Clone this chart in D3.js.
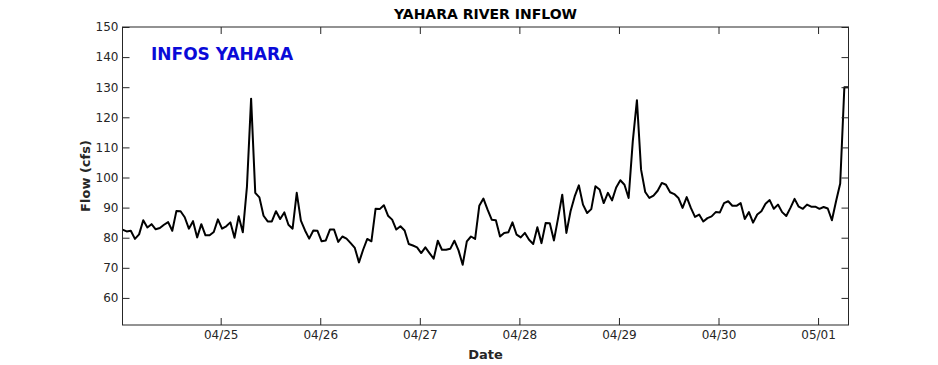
<!DOCTYPE html>
<html><head><meta charset="utf-8">
<script src="https://cdn.jsdelivr.net/npm/d3@7"></script>
<style>body{margin:0;background:#fff}svg{display:block}text{font-family:"DejaVu Sans",sans-serif}</style>
</head><body><svg id="c" width="938" height="365"></svg>
<script>
const startTime = "2024-04-24T00:20:00";
const stepHours = 1;
const flow = [
82.7,82.1,82.3,79.6,81.1,85.8,83.4,84.5,82.8,83.2,84.3,85.2,82.3,88.9,88.8,86.8,83.0,85.5,80.1,84.5,80.8,80.8,81.9,86.1,83.0,83.8,85.1,80.0,87.1,81.8,97.0,
126.2,94.9,93.4,87.3,85.4,85.4,88.8,86.2,88.4,84.3,83.0,94.9,85.7,82.4,79.7,82.4,82.3,78.8,79.1,82.7,82.7,78.6,80.4,79.7,78.2,76.6,71.8,76.0,79.6,78.8,
89.6,89.5,90.8,87.3,86.0,82.7,83.8,82.4,77.9,77.4,76.8,74.9,76.8,74.9,73.0,79.0,76.0,76.0,76.3,79.0,75.8,71.0,78.8,80.4,79.6,90.6,93.0,89.3,86.0,85.8,
80.4,81.6,81.8,85.1,81.0,80.1,81.6,79.3,77.9,83.5,78.2,84.9,84.8,79.1,86.5,94.3,81.6,88.8,93.7,97.4,91.0,88.2,89.5,97.1,96.0,91.5,94.9,92.4,96.7,99.1,
97.6,93.2,112.0,125.7,102.6,95.2,93.2,94.0,95.6,98.2,97.6,95.1,94.5,93.2,89.9,93.5,89.9,86.9,87.7,85.4,86.5,87.1,88.5,88.4,91.5,92.1,90.6,90.6,91.5,86.2,
88.5,85.0,87.7,88.8,91.3,92.5,89.6,91.0,88.5,87.2,89.9,92.9,90.3,89.6,91.0,90.3,90.3,89.6,90.2,89.7,85.8,92.1,98.0,130.0,130.0
];
const yTicks = [60,70,80,90,100,110,120,130,140,150];
const xTickDates = ["2024-04-25","2024-04-26","2024-04-27","2024-04-28","2024-04-29","2024-04-30","2024-05-01"];
const yDomain = [51,150];
const titleText = "YAHARA RIVER INFLOW";
const xLabel = "Date";
const yLabel = "Flow (cfs)";
const annotation = "INFOS YAHARA";

const t0 = new Date(startTime);
const data = flow.map((v,i)=>({t:new Date(t0.getTime()+i*stepHours*3600000), v}));

const W=938,H=365, m={l:122.5,r:89.5,t:27,b:40};
const svg=d3.select("#c");
const x=d3.scaleTime().domain(d3.extent(data,d=>d.t)).range([m.l,W-m.r]);
const y=d3.scaleLinear().domain(yDomain).range([H-m.b,m.t]);
const xt = xTickDates.map(s=>new Date(s+"T00:00:00"));
const fmt=d3.timeFormat("%m/%d");
const tickCol="#262626";

// line
svg.append("path").datum(data)
  .attr("d",d3.line().x(d=>x(d.t)).y(d=>y(d.v)))
  .attr("fill","none").attr("stroke","#000").attr("stroke-width",2).attr("stroke-linejoin","round");

// axes
const ax=(g)=>g.call(s=>s.select(".domain").remove());
svg.append("g").attr("transform",`translate(0,${H-m.b})`)
  .call(d3.axisBottom(x).tickValues(xt).tickFormat(fmt).tickSizeInner(-7).tickSizeOuter(0).tickPadding(5))
  .call(ax);
svg.append("g").attr("transform",`translate(0,${m.t})`)
  .call(d3.axisTop(x).tickValues(xt).tickFormat("").tickSizeInner(-7).tickSizeOuter(0))
  .call(ax);
svg.append("g").attr("transform",`translate(${m.l},0)`)
  .call(d3.axisLeft(y).tickValues(yTicks).tickSizeInner(-7).tickSizeOuter(0).tickPadding(4))
  .call(ax);
svg.append("g").attr("transform",`translate(${W-m.r},0)`)
  .call(d3.axisRight(y).tickValues(yTicks).tickFormat("").tickSizeInner(-7).tickSizeOuter(0))
  .call(ax);
svg.selectAll(".tick line").attr("stroke",tickCol).attr("stroke-width",1);
svg.selectAll(".tick text").attr("fill",tickCol).style("font-size","12px").style("font-family","DejaVu Sans");

// box
svg.append("rect").attr("x",m.l).attr("y",m.t).attr("width",W-m.r-m.l).attr("height",H-m.b-m.t)
  .attr("fill","none").attr("stroke",tickCol).attr("stroke-width",1);

// texts
svg.append("text").attr("x",(m.l+W-m.r)/2).attr("y",19).attr("text-anchor","middle")
  .style("font-size","14px").style("font-weight","bold").attr("fill","#000").text(titleText);
svg.append("text").attr("x",(m.l+W-m.r)/2).attr("y",359).attr("text-anchor","middle")
  .style("font-size","13px").style("font-weight","bold").attr("fill",tickCol).text(xLabel);
svg.append("text").attr("transform",`translate(90,${(m.t+H-m.b)/2}) rotate(-90)`).attr("text-anchor","middle")
  .style("font-size","13px").style("font-weight","bold").attr("fill",tickCol).text(yLabel);
svg.append("text").attr("x",151).attr("y",59.5)
  .style("font-size","17px").style("font-weight","bold").attr("fill","#0a0ad8").text(annotation);
</script></body></html>
